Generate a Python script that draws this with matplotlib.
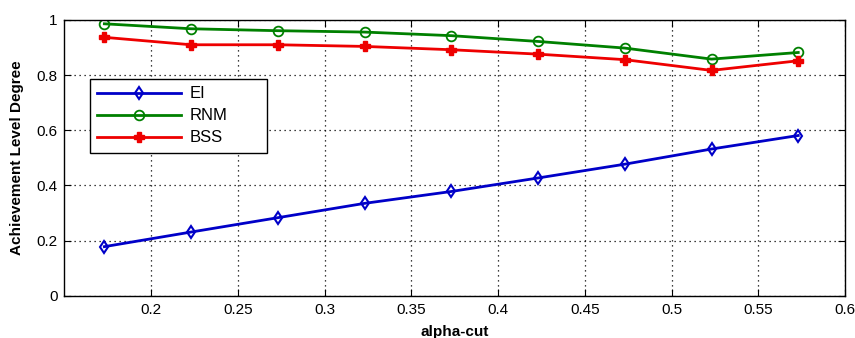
import numpy as np
import matplotlib.pyplot as plt

plt.rcParams['font.family'] = ['Liberation Sans', 'DejaVu Sans']

# alpha-cut levels
alpha = [0.173, 0.223, 0.273, 0.323, 0.373, 0.423, 0.473, 0.523, 0.573]

# achievement level degree per method
ei = [0.178, 0.231, 0.283, 0.335, 0.378, 0.427, 0.477, 0.532, 0.581]
rnm = [0.986, 0.968, 0.961, 0.956, 0.943, 0.922, 0.898, 0.858, 0.882]
bss = [0.937, 0.910, 0.910, 0.904, 0.892, 0.876, 0.856, 0.817, 0.852]

fig = plt.figure(figsize=(8.55, 3.38), dpi=100)
ax = fig.add_axes([0.0754, 0.125, 0.913, 0.816])

ax.plot(alpha, ei, color='#0000c8', lw=2, marker='d', ms=6,
        mfc='none', mec='#0000c8', mew=1.5, label='EI')
ax.plot(alpha, rnm, color='#008000', lw=2, marker='o', ms=7,
        mfc='none', mec='#008000', mew=1.3, label='RNM')
ax.plot(alpha, bss, color='#ee0000', lw=2, marker='P', ms=7,
        mfc='#ee0000', mec='#ee0000', label='BSS')

ax.set_xlim(0.15, 0.6)
ax.set_ylim(0, 1)
ax.set_xticks(np.arange(0.2, 0.61, 0.05))
ax.set_xticklabels(['0.2', '0.25', '0.3', '0.35', '0.4', '0.45', '0.5', '0.55', '0.6'])
ax.set_yticks([0, 0.2, 0.4, 0.6, 0.8, 1])
ax.set_yticklabels(['0', '0.2', '0.4', '0.6', '0.8', '1'])
ax.tick_params(direction='in', top=True, right=True, labelsize=11, length=5, pad=5)
ax.grid(True, color='black', lw=0.9, linestyle=(0, (1, 3)))
for s in ax.spines.values():
    s.set_linewidth(1.0)

ax.set_xlabel('alpha-cut', fontsize=11, fontweight='bold', labelpad=6)
ax.set_ylabel('Achievement Level Degree', fontsize=11, fontweight='bold', labelpad=9)

leg = ax.legend(loc='upper left', bbox_to_anchor=(0.0327, 0.518, 0.227, 0.268),
                mode='expand', borderaxespad=0, fontsize=12,
                fancybox=False, edgecolor='black', framealpha=1,
                handlelength=5, handletextpad=0.5, borderpad=0.45, labelspacing=0.42)
leg.get_frame().set_linewidth(1.0)

fig.savefig('out.png', dpi=100)
